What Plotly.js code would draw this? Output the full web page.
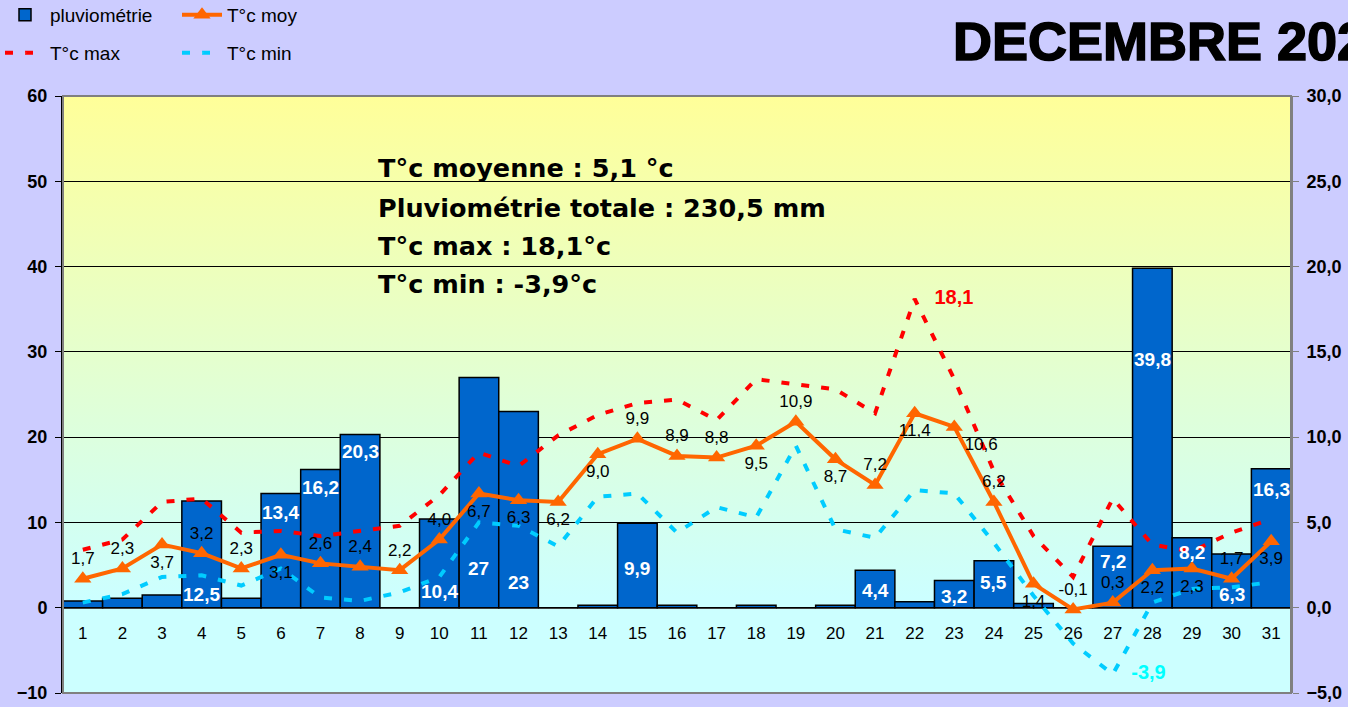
<!DOCTYPE html>
<html>
<head>
<meta charset="utf-8">
<script src="https://cdn.plot.ly/plotly-3.0.1.min.js"></script>
<style>
  html, body { margin: 0; padding: 0; background: #CCCCFF; }
  #chart { width: 1348px; height: 707px; }
  #chart .gtitle { stroke: #000000; stroke-width: 1.6px; }
</style>
</head>
<body>
<div id="chart"></div>
<script>
// ---- data ----
const days = [1,2,3,4,5,6,7,8,9,10,11,12,13,14,15,16,17,18,19,20,21,22,23,24,25,26,27,28,29,30,31];
const dayLabels = days.map(String);
const pluvio = [0.8,1.1,1.5,12.5,1.1,13.4,16.2,20.3,0,10.4,27,23,0,0.3,9.9,0.3,0,0.3,0,0.3,4.4,0.7,3.2,5.5,0.5,0,7.2,39.8,8.2,6.3,16.3];
const tMoy = [1.7,2.3,3.7,3.2,2.3,3.1,2.6,2.4,2.2,4.0,6.7,6.3,6.2,9.0,9.9,8.9,8.8,9.5,10.9,8.7,7.2,11.4,10.6,6.2,1.4,-0.1,0.3,2.2,2.3,1.7,3.9];
const tMax = [3.4,4.0,6.2,6.4,4.4,4.5,4.2,4.5,4.8,6.6,9.1,8.3,10.1,11.3,12.0,12.2,11.0,13.4,13.1,12.8,11.4,18.1,13.4,8.0,4.2,1.8,6.4,3.7,3.3,4.4,5.2];
const tMin = [0.3,0.8,1.8,1.9,1.3,2.3,0.6,0.4,0.9,1.8,5.0,4.8,3.6,6.5,6.7,4.4,5.9,5.3,9.5,4.6,4.1,6.9,6.7,3.8,0.7,-2.1,-3.9,0.3,1.1,1.2,1.5];
const statLines = [
  "T°c moyenne : 5,1 °c",
  "Pluviométrie totale : 230,5 mm",
  "T°c max : 18,1°c",
  "T°c min : -3,9°c"
];
const chartTitle = "DECEMBRE 2023";

// ---- style helpers (not data) ----
const fmt = v => v.toFixed(1).replace('.', ',');
const fmtRain = v => (Number.isInteger(v) ? String(v) : fmt(v));
// where the white rain label sits inside each bar (fraction of bar height); null = no label
const barLabelFrac = [null,null,null,0.12,null,0.83,0.87,0.90,null,0.18,0.17,0.13,null,null,0.47,null,null,null,null,null,0.45,null,0.40,0.53,null,null,0.75,0.73,0.79,0.24,0.85];
const moyLabelPos = ['top center','top center','bottom center','top center','top center','bottom center','top center','top center','top center','top center',
  'bottom center','bottom center','bottom center','bottom center','top center','top center','top center','bottom center','top center','bottom center',
  'top center','bottom center','bottom right','top center','bottom center','top center','top center','bottom center','bottom center','top center','bottom center'];

const maxV = Math.max(...tMax), minV = Math.min(...tMin);
const labelFont = { family: 'Liberation Sans, Arial, sans-serif', size: 17, color: '#000000' };

const traces = [
  {
    type: 'bar', name: 'pluviométrie', x: days, y: pluvio, yaxis: 'y',
    marker: { color: '#0066CC', line: { color: '#000000', width: 1.5 } },
    hoverinfo: 'x+y', legend: 'legend'
  },
  {
    type: 'scatter', mode: 'lines+markers+text', name: 'T°c max', x: days, y: tMax, yaxis: 'y2',
    line: { color: '#FF0000', width: 4, dash: '8px,12px' },
    marker: { size: tMax.map(v => v === maxV ? 30 : 1), opacity: 0, color: '#FF0000' },
    text: tMax.map(v => v === maxV ? fmt(v) : ''), textposition: 'middle right',
    textfont: { family: 'Liberation Sans, Arial, sans-serif', size: 20, color: '#FF0000', weight: 'bold' },
    legend: 'legend2'
  },
  {
    type: 'scatter', mode: 'lines+markers+text', name: 'T°c min', x: days, y: tMin, yaxis: 'y2',
    line: { color: '#00CCFF', width: 4, dash: '8px,12px' },
    marker: { size: tMin.map(v => v === minV ? 28 : 1), opacity: 0, color: '#00CCFF' },
    text: tMin.map(v => v === minV ? fmt(v) : ''), textposition: 'middle right',
    textfont: { family: 'Liberation Sans, Arial, sans-serif', size: 20, color: '#00FFFF', weight: 'bold' },
    legend: 'legend2'
  },
  {
    type: 'scatter', mode: 'lines+markers+text', name: 'T°c moy', x: days, y: tMoy, yaxis: 'y2',
    line: { color: '#FF6600', width: 4 },
    marker: { symbol: 'triangle-up', size: 15, color: '#FF6600' },
    text: tMoy.map(fmt), textposition: moyLabelPos,
    textfont: labelFont,
    legend: 'legend'
  }
];

const annotations = [];
days.forEach((d, i) => {
  const f = barLabelFrac[i];
  if (f === null || !pluvio[i]) return;
  annotations.push({
    x: d, y: pluvio[i] * f, xref: 'x', yref: 'y', text: fmtRain(pluvio[i]),
    showarrow: false, yanchor: 'middle', xanchor: 'center',
    font: { family: 'Liberation Sans, Arial, sans-serif', size: 19, color: '#FFFFFF', weight: 'bold' }
  });
});
const statY = [0.879, 0.813, 0.749, 0.685];
statLines.forEach((t, i) => {
  annotations.push({
    x: 0.2545, y: statY[i], xref: 'paper', yref: 'paper', text: t, showarrow: false,
    xanchor: 'left', yanchor: 'middle',
    font: { family: 'DejaVu Sans, sans-serif', size: 25.5, color: '#000000', weight: 'bold' }
  });
});

const gradSvg = '<svg xmlns="http://www.w3.org/2000/svg" width="100" height="100" preserveAspectRatio="none">' +
  '<defs><linearGradient id="g" x1="0" y1="0" x2="0" y2="1">' +
  '<stop offset="0" stop-color="#FFFF99"/><stop offset="0.84" stop-color="#CCFFFF"/><stop offset="1" stop-color="#CCFFFF"/>' +
  '</linearGradient></defs><rect width="100" height="100" fill="url(#g)"/></svg>';

const tickFont = { family: 'Liberation Sans, Arial, sans-serif', size: 18, color: '#000000', weight: 'bold' };
const legendFont = { family: 'Liberation Sans, Arial, sans-serif', size: 19, color: '#000000' };

const layout = {
  width: 1348, height: 707,
  margin: { l: 63, r: 57, t: 96, b: 14, pad: 0 },
  paper_bgcolor: '#CCCCFF', plot_bgcolor: 'rgba(0,0,0,0)',
  separators: ', ',
  showlegend: true,
  bargap: 0,
  title: {
    text: chartTitle, x: 953 / 1348, xanchor: 'left', xref: 'container',
    y: 1 - 41 / 707, yanchor: 'middle', yref: 'container',
    font: { family: 'Liberation Sans, Arial, sans-serif', size: 54, color: '#000000', weight: 'bold' }
  },
  xaxis: {
    range: [0.5, 31.5], tickvals: days, ticktext: dayLabels,
    anchor: 'free', position: 10 / 70,
    showgrid: false, zeroline: false, showline: false, ticks: '',
    ticklabelstandoff: 13,
    tickfont: { family: 'Liberation Sans, Arial, sans-serif', size: 17, color: '#000000' }
  },
  yaxis: {
    range: [-10, 60], dtick: 10, tick0: 0,
    showgrid: true, gridcolor: '#000000', gridwidth: 1,
    zeroline: true, zerolinecolor: '#808080', zerolinewidth: 2,
    showline: true, linecolor: '#000000', linewidth: 2,
    ticks: 'outside', ticklen: 6, tickcolor: '#000000', tickwidth: 1,
    tickfont: tickFont, ticklabelstandoff: 4
  },
  yaxis2: {
    range: [-5, 30], dtick: 5, tick0: 0, overlaying: 'y', side: 'right',
    tickformat: '.1f', showgrid: false, zeroline: false,
    showline: true, linecolor: '#808080', linewidth: 2,
    ticks: 'outside', ticklen: 6, tickcolor: '#808080',
    tickfont: tickFont, ticklabelstandoff: 4
  },
  legend: {
    orientation: 'h', xref: 'container', yref: 'container', x: 0, y: 1 - 15 / 707, xanchor: 'left', yanchor: 'middle',
    entrywidth: 122, entrywidthmode: 'pixels', bgcolor: 'rgba(0,0,0,0)', itemwidth: 40,
    font: legendFont, traceorder: 'normal'
  },
  legend2: {
    orientation: 'h', xref: 'container', yref: 'container', x: 0, y: 1 - 53 / 707, xanchor: 'left', yanchor: 'middle',
    entrywidth: 122, entrywidthmode: 'pixels', bgcolor: 'rgba(0,0,0,0)', itemwidth: 40,
    font: legendFont, traceorder: 'normal'
  },
  images: [{
    source: 'data:image/svg+xml;charset=utf-8,' + encodeURIComponent(gradSvg),
    xref: 'paper', yref: 'paper', x: 0, y: 1, sizex: 1, sizey: 1,
    sizing: 'stretch', layer: 'below', xanchor: 'left', yanchor: 'top'
  }],
  shapes: [{
    type: 'rect', xref: 'paper', yref: 'paper', x0: 0, x1: 1, y0: 0, y1: 1,
    line: { color: '#808080', width: 2 }, fillcolor: 'rgba(0,0,0,0)', layer: 'above'
  }],
  annotations: annotations
};

Plotly.newPlot('chart', traces, layout, { staticPlot: true, displayModeBar: false });
</script>
</body>
</html>
